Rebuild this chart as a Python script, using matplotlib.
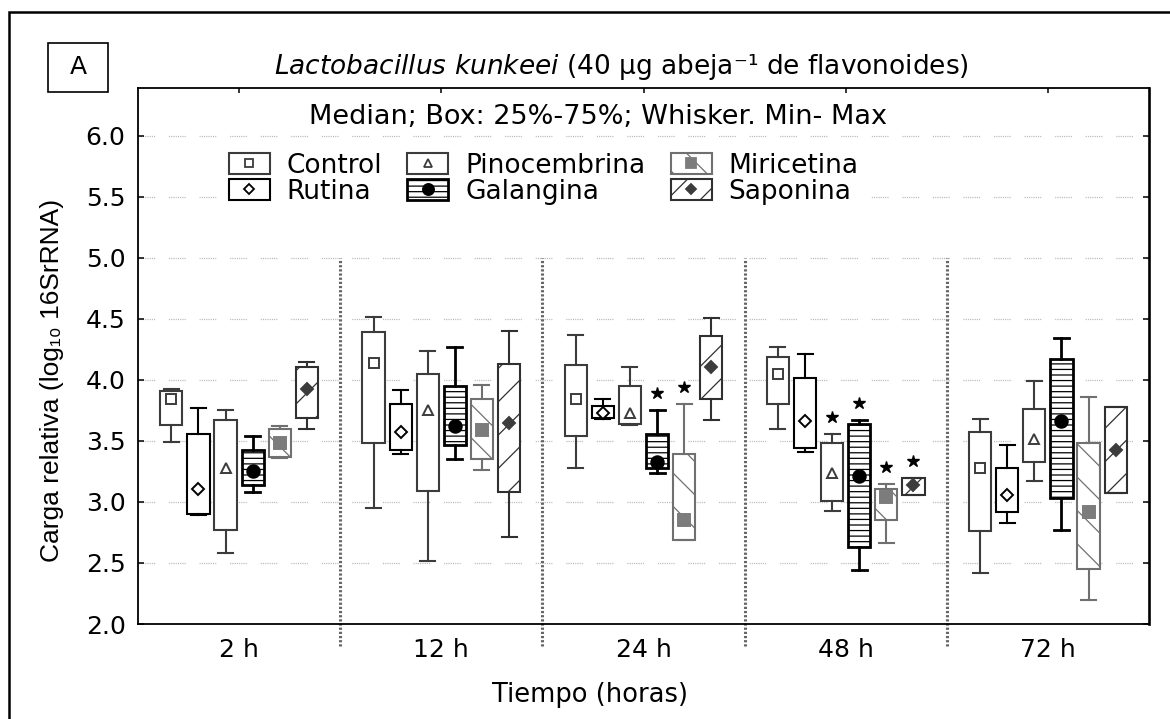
import matplotlib
matplotlib.use("Agg")
import matplotlib.pyplot as plt
from matplotlib.lines import Line2D
from matplotlib.patches import Rectangle

groups = ["2 h", "12 h", "24 h", "48 h", "72 h"]
treatments = ["Control", "Rutina", "Pinocembrina", "Galangina", "Miricetina", "Saponina"]

# per time point: min, q1, median, q3, max
control = [
    [3.49, 3.63, 3.84, 3.91, 3.93],
    [2.95, 3.48, 4.14, 4.39, 4.52],
    [3.28, 3.54, 3.84, 4.12, 4.37],
    [3.60, 3.80, 4.05, 4.19, 4.27],
    [2.42, 2.76, 3.28, 3.57, 3.68],
]
rutina = [
    [2.89, 2.90, 3.11, 3.555, 3.77],
    [3.39, 3.43, 3.57, 3.80, 3.92],
    [3.68, 3.69, 3.73, 3.79, 3.84],
    [3.41, 3.44, 3.66, 4.02, 4.21],
    [2.83, 2.92, 3.06, 3.28, 3.47],
]
pinocembrina = [
    [2.58, 2.77, 3.28, 3.67, 3.75],
    [2.52, 3.09, 3.75, 4.05, 4.24],
    [3.63, 3.64, 3.73, 3.95, 4.11],
    [2.93, 3.01, 3.24, 3.48, 3.555],
    [3.17, 3.33, 3.52, 3.76, 3.99],
]
galangina = [
    [3.08, 3.14, 3.25, 3.43, 3.54],
    [3.35, 3.47, 3.62, 3.95, 4.27],
    [3.24, 3.28, 3.33, 3.555, 3.75],
    [2.44, 2.63, 3.21, 3.64, 3.67],
    [2.77, 3.03, 3.66, 4.17, 4.34],
]
miricetina = [
    [3.36, 3.37, 3.48, 3.60, 3.62],
    [3.26, 3.35, 3.59, 3.84, 3.96],
    [2.69, 2.69, 2.85, 3.39, 3.80],
    [2.66, 2.85, 3.04, 3.11, 3.15],
    [2.20, 2.45, 2.92, 3.48, 3.86],
]
saponina = [
    [3.60, 3.69, 3.93, 4.11, 4.15],
    [2.71, 3.08, 3.65, 4.13, 4.40],
    [3.67, 3.84, 4.11, 4.36, 4.51],
    [3.06, 3.06, 3.14, 3.20, 3.20],
    [3.07, 3.07, 3.43, 3.78, 3.78],
]
significant = [
    ("24 h", "Galangina"), ("24 h", "Miricetina"),
    ("48 h", "Pinocembrina"), ("48 h", "Galangina"),
    ("48 h", "Miricetina"), ("48 h", "Saponina"),
]
yticks = [2.0, 2.5, 3.0, 3.5, 4.0, 4.5, 5.0, 5.5, 6.0]

all_data = [control, rutina, pinocembrina, galangina, miricetina, saponina]

# edge colour, line width, hatch, marker, marker face, marker edge, marker size
styles = {
    "Control": ("#3c3c3c", 1.5, None, "s", "white", "#3c3c3c", 7),
    "Rutina": ("black", 1.5, None, "D", "white", "black", 6),
    "Pinocembrina": ("#3c3c3c", 1.5, None, "^", "white", "#3c3c3c", 7),
    "Galangina": ("black", 2.0, "---", "o", "black", "black", 9),
    "Miricetina": ("#707070", 1.5, "\\", "s", "#7c7c7c", "#7c7c7c", 8),
    "Saponina": ("#303030", 1.5, "/", "D", "#3c3c3c", "#3c3c3c", 6),
}

plt.rcParams["font.family"] = "DejaVu Sans"
plt.rcParams["hatch.linewidth"] = 0.9
plt.rcParams["lines.scale_dashes"] = False

W, H = 1170, 719
fig = plt.figure(figsize=(W / 100, H / 100), dpi=100)
ax = fig.add_axes([138 / W, 1 - 624 / H, (1149 - 138) / W, (624 - 88) / H])

step = 0.134
for j, (name, data) in enumerate(zip(treatments, all_data)):
    ec, lw, hatch, mk, mfc, mec, ms = styles[name]
    pos = [i + (j - 2.5) * step for i in range(len(groups))]
    stats = [dict(whislo=s[0], q1=s[1], med=s[2], q3=s[3], whishi=s[4], fliers=[])
             for s in data]
    ax.bxp(stats, positions=pos, widths=0.11, capwidths=0.074, patch_artist=True,
           showfliers=False, manage_ticks=False, zorder=3,
           boxprops=dict(facecolor="white", edgecolor=ec, linewidth=lw, hatch=hatch),
           whiskerprops=dict(color=ec, linewidth=lw),
           capprops=dict(color=ec, linewidth=lw),
           medianprops=dict(visible=False))
    ax.plot(pos, [s[2] for s in data], linestyle="none", marker=mk, ms=ms,
            mfc=mfc, mec=mec, mew=1.4, zorder=4)

for g, t in significant:
    i, j = groups.index(g), treatments.index(t)
    ax.plot(i + (j - 2.5) * step, all_data[j][i][4] + 0.14, marker="*",
            color="black", ms=9, linestyle="none", zorder=4)

ax.set_xlim(-0.5, len(groups) - 0.5)
ax.set_ylim(2.0, 6.393)
ax.set_yticks(yticks)
ax.set_yticklabels([f"{v:.1f}" for v in yticks])
ax.set_xticks(range(len(groups)))
ax.set_xticklabels(groups)
ax.grid(axis="y", color="#b8b8b8", linewidth=0.9,
        linestyle=(0, (0.8, 0.8) * 7 + (0.8, 10)), zorder=0)
ax.set_axisbelow(True)
ax.tick_params(axis="y", direction="in", length=4, left=True, right=True,
               labelsize=18, pad=9, width=1.1)
ax.tick_params(axis="x", direction="in", length=3.5, bottom=False, top=True,
               labelsize=18, pad=10, width=1.1)
for sp in ax.spines.values():
    sp.set_linewidth(1.3)
ax.spines["right"].set_linewidth(1.9)

ax.vlines([i + 0.5 for i in range(len(groups) - 1)], 1.82, 5.0, colors="#666666",
          linewidth=2.2, linestyles=[(0, (1.6, 1.4))], clip_on=False, zorder=1)

handles = []
for name in treatments:
    ec, lw, hatch, mk, mfc, mec, ms = styles[name]
    box = Rectangle((0, 0), 1, 1, facecolor="white", edgecolor=ec, linewidth=lw,
                    hatch=hatch)
    dot = Line2D([], [], linestyle="none", marker=mk, ms=ms - 1, mfc=mfc, mec=mec,
                 mew=1.3)
    handles.append((box, dot))
leg = ax.legend(handles, treatments, ncol=3, loc="upper left",
                bbox_to_anchor=(226 / W, 1 - 150 / H), bbox_transform=fig.transFigure,
                fontsize=19, handlelength=1.55, handleheight=0.85, handletextpad=0.65,
                columnspacing=0.95, labelspacing=0.0, borderpad=0.1, borderaxespad=0,
                frameon=True, fancybox=False, framealpha=1, edgecolor="white")
leg.set_zorder(5)

fig.text(621 / W, 1 - 67 / H,
         r"$\mathit{Lactobacillus\ kunkeei}$ (40 µg abeja⁻¹ de flavonoides)",
         ha="center", va="center", fontsize=19)
fig.text(598 / W, 1 - 117 / H, "Median; Box: 25%-75%; Whisker. Min- Max",
         ha="center", va="center", fontsize=19.5)
fig.text(590 / W, 1 - 695 / H, "Tiempo (horas)", ha="center", va="center",
         fontsize=18.5)
fig.text(52 / W, 1 - 380 / H, "Carga relativa (log₁₀ 16SrRNA)", rotation=90,
         ha="center", va="center", fontsize=19,
         family=["Liberation Sans", "DejaVu Sans"])

fig.add_artist(Rectangle((48 / W, 1 - 92 / H), 60 / W, 49 / H, transform=fig.transFigure,
                         facecolor="white", edgecolor="black", linewidth=1.2))
fig.text(78 / W, 1 - 67 / H, "A", ha="center", va="center", fontsize=18)
fig.add_artist(Rectangle((9 / W, -0.1), 1.2, 1.1 - 12 / H, transform=fig.transFigure,
                         facecolor="none", edgecolor="black", linewidth=1.8))

fig.savefig("out.png", dpi=100)
